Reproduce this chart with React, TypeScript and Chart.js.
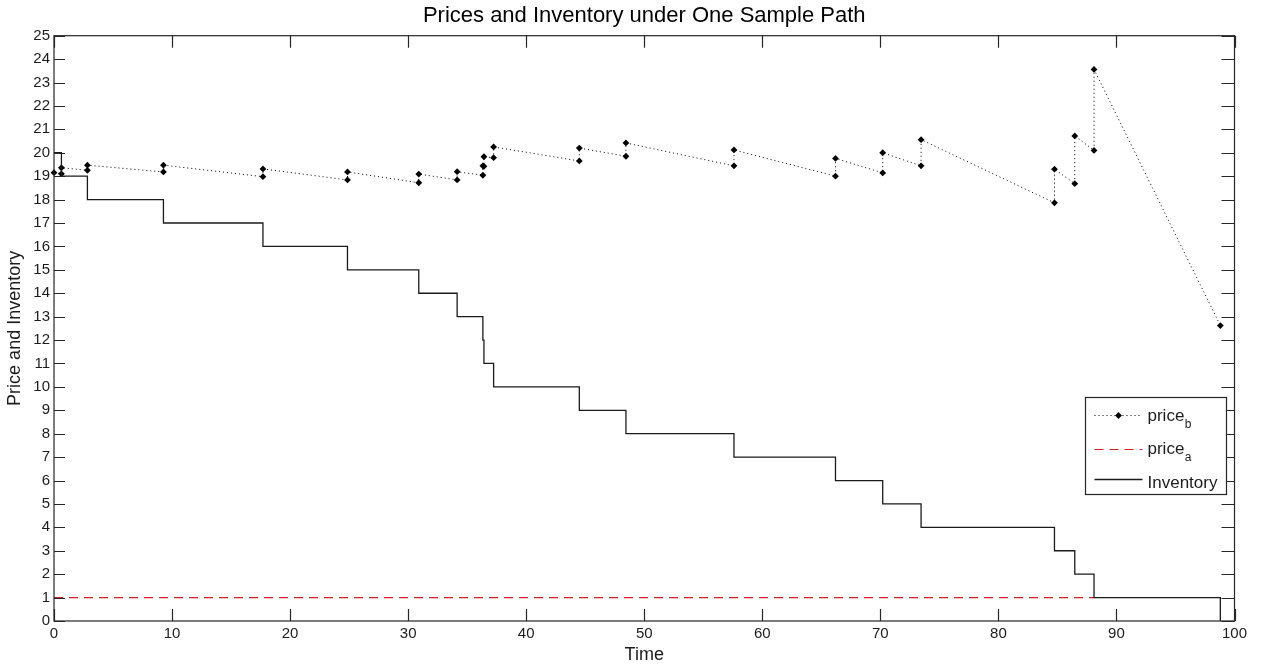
import { useEffect, useRef } from "react";
import { Chart, registerables } from "chart.js";

Chart.register(...registerables);

const chartTitle = "Prices and Inventory under One Sample Path";
const xAxisTitle = "Time";
const yAxisTitle = "Price and Inventory";

const xMin = 0;
const xMax = 100;
const xStep = 10;
const yMin = 0;
const yMax = 25;
const yStep = 1;

// price_b: jump process (value before and after each sale)
const priceBTimes = [
  0, 0.63, 0.63, 2.83, 2.83, 9.27, 9.27, 17.7, 17.7, 24.86, 24.86, 30.9, 30.9, 34.15, 34.15,
  36.33, 36.33, 36.42, 36.42, 37.24, 37.24, 44.5, 44.5, 48.45, 48.45, 57.6, 57.6, 66.2, 66.2,
  70.2, 70.2, 73.45, 73.45, 84.75, 84.75, 86.47, 86.47, 88.1, 88.1, 98.8,
];
const priceBValues = [
  19.15, 19.1, 19.36, 19.25, 19.47, 19.18, 19.47, 18.98, 19.31, 18.84, 19.18, 18.72, 19.09, 18.84, 19.19,
  19.04, 19.44, 19.42, 19.83, 19.79, 20.25, 19.65, 20.2, 19.85, 20.42, 19.44, 20.12, 19.0, 19.76,
  19.14, 20.0, 19.44, 20.56, 17.86, 19.3, 18.68, 20.72, 20.1, 23.56, 12.62,
];

// price_a
const priceATimes = [0, 88.1];
const priceAValues = [1, 1];

// Inventory (step function; level after each sale time)
const inventoryTimes = [
  0, 0.63, 2.83, 9.27, 17.7, 24.86, 30.9, 34.15, 36.33, 36.42, 37.24, 44.5, 48.45, 57.6, 66.2,
  70.2, 73.45, 84.75, 86.47, 88.1, 98.8,
];
const inventoryLevels = [
  20, 19, 18, 17, 16, 15, 14, 13, 12, 11, 10, 9, 8, 7, 6, 5, 4, 3, 2, 1, 0,
];

const legendMain = ["price", "price", "Inventory"];
const legendSub = ["b", "a", ""];

const FONT = "'Liberation Sans', Arial, Helvetica, sans-serif";
const INK = "#1c1c1c";
const PRICE_A_COLOR = "#d42020";

const toPoints = (xs: number[], ys: number[]) => xs.map((x, i) => ({ x, y: ys[i] }));

const framePlugin = {
  id: "matlabFrame",
  afterDraw(chart: any) {
    const { ctx, chartArea } = chart;
    const { left, right, top, bottom } = chartArea;
    const xs = chart.scales.x;
    const ys = chart.scales.y;
    const tickLen = 12;
    ctx.save();
    ctx.strokeStyle = "#262626";
    ctx.lineWidth = 1.2;
    ctx.strokeRect(left, top, right - left, bottom - top);
    ctx.beginPath();
    xs.ticks.forEach((t: any) => {
      const px = Math.round(xs.getPixelForValue(t.value)) + 0.5;
      ctx.moveTo(px, bottom);
      ctx.lineTo(px, bottom - tickLen);
      ctx.moveTo(px, top);
      ctx.lineTo(px, top + tickLen);
    });
    ys.ticks.forEach((t: any) => {
      const py = Math.round(ys.getPixelForValue(t.value)) + 0.5;
      ctx.moveTo(left, py);
      ctx.lineTo(left + tickLen - 1, py);
      ctx.moveTo(right, py);
      ctx.lineTo(right - tickLen - 1, py);
    });
    ctx.stroke();

    // Legend
    const boxRight = Math.round(right - 8.5) + 0.5;
    const boxBottom = Math.round(bottom - 127) + 0.5;
    const boxW = 141;
    const boxH = 97;
    const boxLeft = boxRight - boxW;
    const boxTop = boxBottom - boxH;
    ctx.fillStyle = "#ffffff";
    ctx.fillRect(boxLeft, boxTop, boxW, boxH);
    ctx.strokeStyle = "#262626";
    ctx.lineWidth = 1.2;
    ctx.strokeRect(boxLeft, boxTop, boxW, boxH);

    const lineX0 = boxLeft + 9;
    const lineX1 = boxLeft + 57;
    const textX = boxLeft + 62;
    const baselines = [boxTop + 23.5, boxTop + 56.5, boxTop + 90.5];
    const lineYs = [boxTop + 18, boxTop + 52, boxTop + 82];

    chart.data.datasets.forEach((ds: any, i: number) => {
      const ly = lineYs[i];
      ctx.save();
      ctx.strokeStyle = ds.borderColor;
      ctx.lineWidth = ds.borderWidth;
      ctx.setLineDash(ds.borderDash || []);
      ctx.beginPath();
      ctx.moveTo(lineX0, ly);
      ctx.lineTo(lineX1, ly);
      ctx.stroke();
      ctx.restore();
      if (ds.pointRadius > 0) {
        ctx.save();
        ctx.fillStyle = ds.pointBackgroundColor;
        const cx = (lineX0 + lineX1) / 2;
        const r = ds.pointRadius;
        ctx.beginPath();
        ctx.moveTo(cx - r, ly);
        ctx.lineTo(cx, ly - r);
        ctx.lineTo(cx + r, ly);
        ctx.lineTo(cx, ly + r);
        ctx.closePath();
        ctx.fill();
        ctx.restore();
      }
      ctx.fillStyle = INK;
      ctx.textBaseline = "alphabetic";
      ctx.textAlign = "left";
      ctx.font = `17px ${FONT}`;
      ctx.fillText(legendMain[i], textX, baselines[i]);
      if (legendSub[i]) {
        const w = ctx.measureText(legendMain[i]).width;
        ctx.font = `12px ${FONT}`;
        ctx.fillText(legendSub[i], textX + w + 0.5, baselines[i] + 7);
      }
    });
    ctx.restore();
  },
};

export default function App() {
  const canvasRef = useRef<HTMLCanvasElement | null>(null);

  useEffect(() => {
    if (!canvasRef.current) return;
    const chart = new Chart(canvasRef.current, {
      type: "line",
      data: {
        datasets: [
          {
            label: "price_b",
            data: toPoints(priceBTimes, priceBValues),
            borderColor: "#000000",
            borderWidth: 1,
            borderDash: [1, 3],
            pointRadius: 3.4,
            pointStyle: "rectRot",
            pointBackgroundColor: "#000000",
            pointBorderWidth: 0,
            pointBorderColor: "#000000",
            tension: 0,
            fill: false,
            clip: 10,
            order: 3,
          } as any,
          {
            label: "price_a",
            data: toPoints(priceATimes, priceAValues),
            borderColor: PRICE_A_COLOR,
            borderWidth: 1.2,
            borderDash: [9, 6],
            pointRadius: 0,
            tension: 0,
            fill: false,
            order: 2,
          },
          {
            label: "Inventory",
            data: toPoints(inventoryTimes, inventoryLevels),
            borderColor: "#1a1a1a",
            borderWidth: 1.3,
            stepped: true,
            pointRadius: 0,
            tension: 0,
            fill: false,
            order: 1,
          },
        ],
      },
      options: {
        animation: false,
        responsive: true,
        maintainAspectRatio: false,
        events: [],
        layout: { padding: { left: 0, right: 28.5, top: 0, bottom: 0 } },
        plugins: {
          legend: { display: false },
          tooltip: { enabled: false },
          title: {
            display: true,
            fullSize: false,
            text: chartTitle,
            color: "#000000",
            font: { family: FONT, size: 22, weight: "normal", lineHeight: 1.2 },
            padding: { top: 3, bottom: 6.3 },
          },
        },
        scales: {
          x: {
            type: "linear",
            min: xMin,
            max: xMax,
            grid: { display: false, drawTicks: false },
            border: { display: false },
            ticks: {
              stepSize: xStep,
              color: INK,
              padding: 4,
              autoSkip: false,
              maxRotation: 0,
              font: { family: FONT, size: 15, lineHeight: 1.2 },
            },
            title: {
              display: true,
              text: xAxisTitle,
              color: INK,
              font: { family: FONT, size: 18, lineHeight: 1.2 },
              padding: { top: 0, bottom: 0 },
            },
            afterFit: (scale: any) => {
              scale.height = 45;
            },
          },
          y: {
            type: "linear",
            min: yMin,
            max: yMax,
            grid: { display: false, drawTicks: false },
            border: { display: false },
            ticks: {
              stepSize: yStep,
              color: INK,
              padding: 4,
              autoSkip: false,
              font: { family: FONT, size: 15, lineHeight: 1.2 },
            },
            title: {
              display: true,
              text: yAxisTitle,
              color: INK,
              font: { family: FONT, size: 18, lineHeight: 1.2 },
              padding: { top: 4, bottom: 0 },
            },
            afterFit: (scale: any) => {
              scale.width = 54;
            },
          },
        },
      } as any,
      plugins: [framePlugin],
    });
    return () => chart.destroy();
  }, []);

  return (
    <div
      style={{
        position: "fixed",
        left: 0,
        top: 0,
        width: 1263,
        height: 666,
        background: "#ffffff",
      }}
    >
      <canvas ref={canvasRef} style={{ display: "block", width: "100%", height: "100%" }} />
    </div>
  );
}
